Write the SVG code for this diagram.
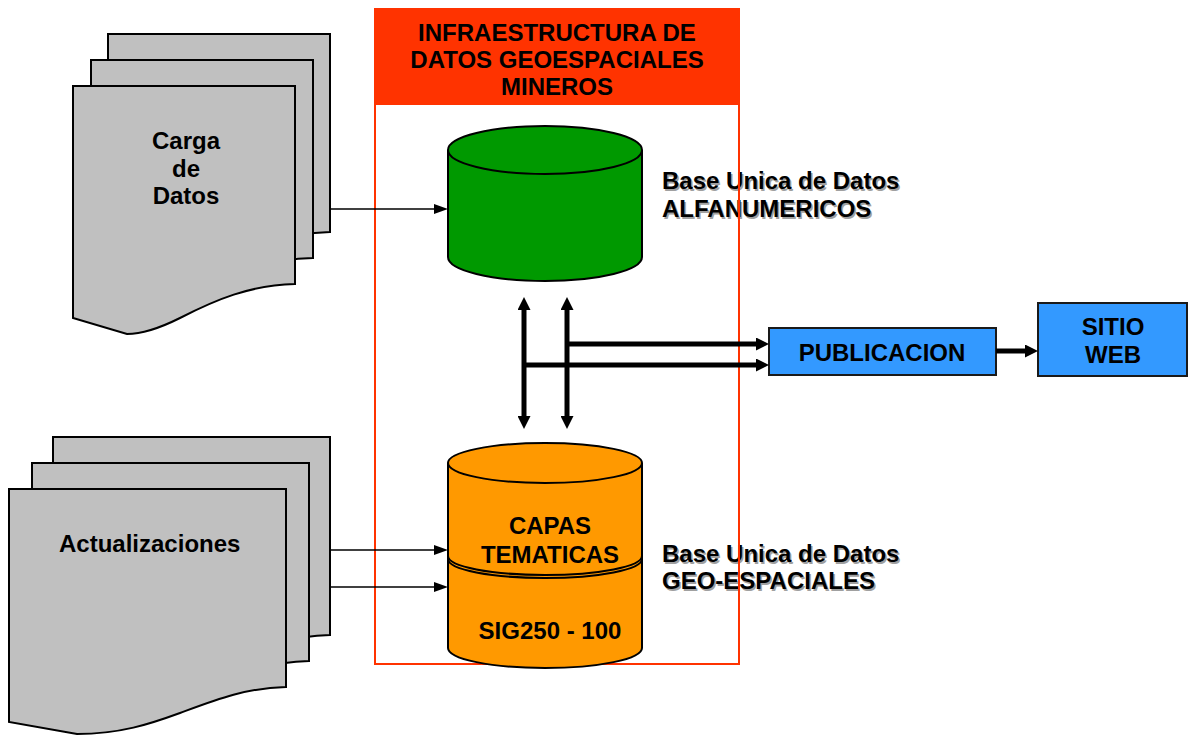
<svg xmlns="http://www.w3.org/2000/svg" width="1188" height="736" viewBox="0 0 1188 736">
<style>
.doc{fill:#C0C0C0;stroke:#000;stroke-width:2}
.t{font-family:"Liberation Sans",Arial,sans-serif;font-weight:bold;font-size:24px;fill:#000}
.c{text-anchor:middle}
.sh{fill:#a0a0a0}
.thin{stroke:#000;stroke-width:1.5;fill:none}
.thick{stroke:#000;stroke-width:5;fill:none}
.box{fill:#3399FF;stroke:#1a1a1a;stroke-width:2}
.cyl{stroke:#000;stroke-width:2}
</style>
<defs>
<marker id="ah" viewBox="0 0 14 10" refX="0" refY="5" markerUnits="userSpaceOnUse" markerWidth="14" markerHeight="10" orient="auto"><path d="M0,0L14,5L0,10z" fill="#000"/></marker>
<marker id="ahb" viewBox="0 0 13 13" refX="0" refY="6.5" markerUnits="userSpaceOnUse" markerWidth="13" markerHeight="13" orient="auto-start-reverse"><path d="M0,0L13,6.5L0,13z" fill="#000"/></marker>
<path id="docA" d="M0,0H222V198C177,199 142,214 107,232C87,242 67,248 54,248L0,232Z"/>
<path id="docB" d="M0,0H277V198C236,199 206,211 171,224C141,235 111,245 68,245L0,233Z"/>
</defs>

<g id="carga">
<use href="#docA" class="doc" x="108" y="34"/>
<use href="#docA" class="doc" x="91" y="60"/>
<use href="#docA" class="doc" x="73" y="86"/>
<text class="t c" x="186" y="149">Carga</text>
<text class="t c" x="186" y="177">de</text>
<text class="t c" x="186" y="204">Datos</text>
</g>

<g id="actualizaciones">
<use href="#docB" class="doc" x="53" y="437"/>
<use href="#docB" class="doc" x="32" y="463"/>
<use href="#docB" class="doc" x="9" y="489"/>
<text class="t" x="59" y="552">Actualizaciones</text>
</g>

<g id="labels">
<text class="t sh" x="663.5" y="190.5">Base Unica de Datos</text>
<text class="t sh" x="663.5" y="218.5">ALFANUMERICOS</text>
<text class="t" x="662" y="189">Base Unica de Datos</text>
<text class="t" x="662" y="217">ALFANUMERICOS</text>
<text class="t sh" x="663.5" y="563.5">Base Unica de Datos</text>
<text class="t sh" x="663.5" y="590.5">GEO-ESPACIALES</text>
<text class="t" x="662" y="562">Base Unica de Datos</text>
<text class="t" x="662" y="589">GEO-ESPACIALES</text>
</g>

<g id="ide">
<rect x="375" y="9" width="365" height="96" fill="#FF3300"/>
<rect x="375" y="9" width="364" height="655" fill="none" stroke="#FF3300" stroke-width="2"/>
<text class="t c" x="557" y="41">INFRAESTRUCTURA DE</text>
<text class="t c" x="557" y="68">DATOS GEOESPACIALES</text>
<text class="t c" x="557" y="95">MINEROS</text>
</g>

<g id="alfanumericos">
<path class="cyl" fill="#009900" d="M448,150V257A97,24 0 0 0 642,257V150A97,24 0 0 0 448,150Z"/>
<path class="cyl" fill="none" d="M448,150A97,24 0 0 0 642,150"/>
</g>

<g id="geoespaciales">
<path class="cyl" fill="#FF9900" d="M448,463V648A97,20 0 0 0 642,648V463A97,20 0 0 0 448,463Z"/>
<path class="cyl" fill="none" d="M448,463A97,20 0 0 0 642,463"/>
<path class="cyl" fill="none" d="M448,556A97,19 0 0 0 642,556"/>
<path class="cyl" fill="none" d="M448,559A97,19 0 0 0 642,559"/>
<text class="t c" x="550" y="534">CAPAS</text>
<text class="t c" x="550" y="563">TEMATICAS</text>
<text class="t c" x="550" y="639">SIG250 - 100</text>
</g>

<g id="publicacion">
<rect class="box" x="769" y="328" width="227" height="47"/>
<text class="t c" x="882" y="361">PUBLICACION</text>
</g>

<g id="sitio">
<rect class="box" x="1038" y="303" width="149" height="73"/>
<text class="t c" x="1113" y="335">SITIO</text>
<text class="t c" x="1113" y="363">WEB</text>
</g>

<g id="connectors">
<line class="thin" x1="330" y1="209" x2="434" y2="209" marker-end="url(#ah)"/>
<line class="thin" x1="330" y1="550" x2="434" y2="550" marker-end="url(#ah)"/>
<line class="thin" x1="330" y1="587" x2="434" y2="587" marker-end="url(#ah)"/>
<line class="thick" x1="524" y1="310" x2="524" y2="416" marker-start="url(#ahb)" marker-end="url(#ahb)"/>
<line class="thick" x1="567" y1="310" x2="567" y2="416" marker-start="url(#ahb)" marker-end="url(#ahb)"/>
<line class="thick" x1="565" y1="344" x2="756" y2="344" marker-end="url(#ahb)"/>
<line class="thick" x1="522" y1="365" x2="756" y2="365" marker-end="url(#ahb)"/>
<line class="thick" x1="996" y1="351" x2="1025" y2="351" marker-end="url(#ahb)"/>
</g>
</svg>
